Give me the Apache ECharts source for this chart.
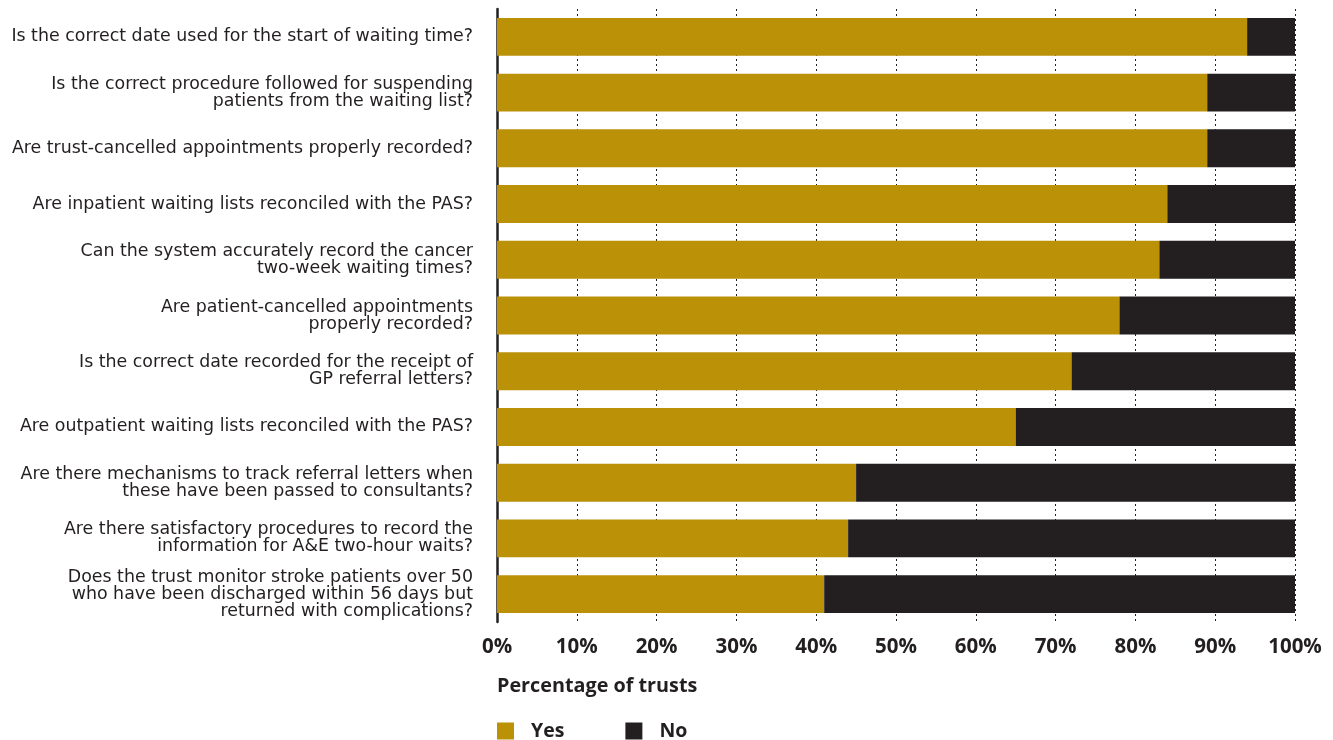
<!DOCTYPE html>
<html>
<head>
<meta charset="utf-8">
<script src="https://cdn.jsdelivr.net/npm/echarts@6/dist/echarts.min.js"></script>
<style>
html,body{margin:0;padding:0;background:#fff;}
#chart{width:1333px;height:740px;}
</style>
</head>
<body>
<div id="chart"></div>
<script>
var categories = [
  "Is the correct date used for the start of waiting time?",
  "Is the correct procedure followed for suspending\npatients from the waiting list?",
  "Are trust-cancelled appointments properly recorded?",
  "Are inpatient waiting lists reconciled with the PAS?",
  "Can the system accurately record the cancer\ntwo-week waiting times?",
  "Are patient-cancelled appointments\nproperly recorded?",
  "Is the correct date recorded for the receipt of\nGP referral letters?",
  "Are outpatient waiting lists reconciled with the PAS?",
  "Are there mechanisms to track referral letters when\nthese have been passed to consultants?",
  "Are there satisfactory procedures to record the\ninformation for A&E two-hour waits?",
  "Does the trust monitor stroke patients over 50\nwho have been discharged within 56 days but\nreturned with complications?"
];
var yesValues = [94, 89, 89, 84, 83, 78, 72, 65, 45, 44, 41];
var noValues  = [6, 11, 11, 16, 17, 22, 28, 35, 55, 56, 59];
var xTicks = [0, 10, 20, 30, 40, 50, 60, 70, 80, 90, 100];
var seriesNames = ["Yes", "No"];
var axisTitle = "Percentage of trusts";

var FONT = "'Open Sans', 'Noto Sans', sans-serif";
var LABEL_FONT = "'DejaVu Sans', 'Open Sans', sans-serif";
var DARK = "#231f20";
var GOLD = "#bb9108";

var chart = echarts.init(document.getElementById('chart'), null, {renderer: 'canvas'});
chart.setOption({
  animation: false,
  backgroundColor: '#fff',
  title: {
    text: axisTitle,
    left: 497,
    top: 676,
    padding: 0,
    textStyle: {fontFamily: FONT, fontSize: 19.8, fontWeight: 'bold', color: DARK}
  },
  legend: {
    data: seriesNames,
    left: 497,
    top: 721,
    padding: 0,
    itemWidth: 17,
    itemHeight: 17,
    itemGap: 61,
    icon: 'rect',
    textStyle: {fontFamily: FONT, fontSize: 19.5, fontWeight: 'bold', color: DARK, padding: [0, 0, 0, 12]}
  },
  grid: {left: 497, right: 38, top: 9, bottom: 118, containLabel: false},
  xAxis: {
    type: 'value',
    min: 0, max: 100, interval: 10,
    axisLine: {show: false},
    axisTick: {show: false},
    splitLine: {show: true, lineStyle: {color: DARK, width: 1, type: [2, 3]}},
    axisLabel: {
      formatter: function (v) { return xTicks.indexOf(v) >= 0 ? v + '%' : ''; },
      fontFamily: FONT, fontSize: 20.5, fontWeight: 'bold', color: DARK, margin: 15
    }
  },
  yAxis: {
    type: 'category',
    data: categories,
    inverse: true,
    axisLine: {show: true, lineStyle: {color: DARK, width: 2.5}},
    axisTick: {show: false},
    axisLabel: {
      fontFamily: LABEL_FONT, fontSize: 17.4, color: DARK, lineHeight: 17, margin: 24, align: 'right'
    }
  },
  series: [
    {name: seriesNames[0], type: 'bar', stack: 'a', data: yesValues, barWidth: '68%', itemStyle: {color: GOLD}},
    {name: seriesNames[1], type: 'bar', stack: 'a', data: noValues, barWidth: '68%', itemStyle: {color: DARK}}
  ]
});
</script>
</body>
</html>
